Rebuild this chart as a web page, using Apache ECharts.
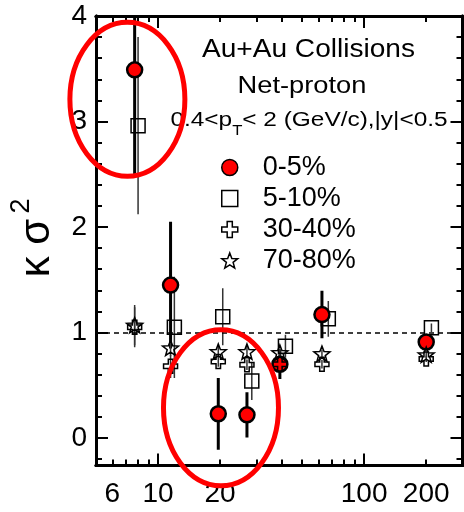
<!DOCTYPE html>
<html><head><meta charset="utf-8">
<script src="https://cdn.jsdelivr.net/npm/echarts@6/dist/echarts.min.js"></script>
<style>html,body{margin:0;padding:0;background:#fff}#c{width:464px;height:512px}</style>
</head><body><div id="c"></div>
<script>
// ---- data ----
const energies = [7.7, 11.5, 19.6, 27, 39, 62.4, 200];
const energiesSq = [8.0, 12.0, 20.6, 28.5, 41.5, 67, 212]; // 5-10% points drawn slightly offset
const c0_5 = [3.49, 1.45, 0.23, 0.22, 0.70, 1.17, 0.91];
const c0_5Err = [1.01, 0.60, 0.34, 0.215, 0.14, 0.225, 0.05];
const c5_10 = [2.96, 1.05, 1.15, 0.54, 0.87, 1.13, 1.045];
const c5_10Err = [0.84, 0.48, 0.27, 0.18, 0.11, 0.17, 0.04];
const c30_40 = [1.05, 0.68, 0.725, 0.695, 0.70, 0.70, 0.75];
const c30_40Err = [0.19, 0.11, 0.05, 0.05, 0.04, 0.04, 0.03];
const c70_80 = [1.07, 0.855, 0.82, 0.82, 0.81, 0.80, 0.79];
const c70_80Err = [0.19, 0.08, 0.05, 0.05, 0.04, 0.04, 0.03];
const names = ['0-5%', '5-10%', '30-40%', '70-80%'];
const xTickLabels = [6, 10, 20, 100, 200];
const xMajorTicks = [10, 100];
const xMinorTicks = [6, 7, 8, 9, 20, 30, 40, 50, 60, 70, 80, 90, 200];
const yTickLabels = [0, 1, 2, 3, 4];
const refLine = 1;

const L = Math.log10;
const xMin = L(5), xMax = L(300), yMin = -0.26, yMax = 4;
const yMinorTicks = [];
for (let i = -1; i <= 19; i++) { if (i % 5 !== 0) yMinorTicks.push(i / 5); }

const FONT = '"Liberation Sans", Arial, Helvetica, sans-serif';

function starPath() {
  let s = 'path://';
  for (let i = 0; i < 10; i++) {
    const a = -Math.PI / 2 + i * Math.PI / 5, r = i % 2 ? 4.2 : 10;
    s += (i ? 'L' : 'M') + (Math.cos(a) * r).toFixed(2) + ',' + (Math.sin(a) * r).toFixed(2);
  }
  return s + 'Z';
}
const crossPath = 'path://M3.4,0H6.6V3.4H10V6.6H6.6V10H3.4V6.6H0V3.4H3.4Z';

function xAx(pos, ticks, len, withLabels) {
  return {
    type: 'value', position: pos, min: xMin, max: xMax,
    axisLine: { show: true, onZero: false, lineStyle: { color: '#000', width: 3 } },
    axisTick: { show: true, inside: true, length: len, customValues: ticks.map(L), lineStyle: { color: '#000', width: 2 } },
    axisLabel: withLabels ? {
      show: true, customValues: xTickLabels.map(L), margin: 15,
      formatter: v => String(Math.round(Math.pow(10, v))),
      fontSize: 28, color: '#000', fontFamily: FONT
    } : { show: false },
    splitLine: { show: false }
  };
}
function yAx(pos, ticks, len, withLabels) {
  return {
    type: 'value', position: pos, min: yMin, max: yMax,
    axisLine: { show: true, onZero: false, lineStyle: { color: '#000', width: 3 } },
    axisTick: { show: true, inside: true, length: len, customValues: ticks, lineStyle: { color: '#000', width: 2 } },
    axisLabel: withLabels ? {
      show: true, customValues: yTickLabels, margin: 9,
      formatter: v => String(Math.round(v)),
      fontSize: 28, color: '#000', fontFamily: FONT
    } : { show: false },
    splitLine: { show: false }
  };
}

function errBars(xs, ys, errs, color, width) {
  return {
    type: 'custom', silent: true, clip: true,
    xAxisIndex: 0, yAxisIndex: 0,
    data: xs.map((x, i) => [L(x), ys[i], errs[i]]),
    renderItem: (params, api) => {
      const x = api.value(0), y = api.value(1), e = api.value(2);
      const lo = Math.max(y - e, yMin), hi = Math.min(y + e, yMax);
      const p1 = api.coord([x, lo]), p2 = api.coord([x, hi]);
      return { type: 'line', shape: { x1: p1[0], y1: p1[1], x2: p2[0], y2: p2[1] },
        style: { stroke: color, lineWidth: width } };
    }
  };
}
function points(name, xs, ys, symbol, size, fill, bw) {
  return {
    type: 'scatter', name, xAxisIndex: 0, yAxisIndex: 0,
    data: xs.map((x, i) => [L(x), ys[i]]),
    symbol, symbolSize: size, symbolKeepAspect: true,
    itemStyle: { color: fill, borderColor: '#000', borderWidth: bw, opacity: 1 },
    emphasis: { disabled: true }
  };
}

const sq = points(names[1], energiesSq, c5_10, 'rect', 14, 'rgba(255,255,255,0)', 1.5);
sq.markLine = {
  silent: true, symbol: ['none', 'none'], label: { show: false },
  lineStyle: { color: '#000', width: 1.5, type: [5, 4] },
  data: [{ yAxis: refLine }]
};

const chart = echarts.init(document.getElementById('c'), null, { renderer: 'canvas' });
chart.setOption({
  animation: false,
  backgroundColor: '#fff',
  grid: { left: 96, right: 1.5, top: 16, bottom: 46.5, containLabel: false },
  xAxis: [xAx('bottom', xMajorTicks, 12, true), xAx('bottom', xMinorTicks, 6, false),
          xAx('top', xMajorTicks, 12, false), xAx('top', xMinorTicks, 6, false)],
  yAxis: [yAx('left', yTickLabels, 12, true), yAx('left', yMinorTicks, 6, false),
          yAx('right', yTickLabels, 12, false), yAx('right', yMinorTicks, 6, false)],
  legend: {
    orient: 'vertical', left: 216, top: 149, itemWidth: 16, itemHeight: 16, itemGap: 4,
    selectedMode: false, data: names,
    itemStyle: { borderWidth: 1.5 },
    textStyle: { fontSize: 27, color: '#000', fontFamily: FONT, padding: [0, 0, 0, 20], lineHeight: 26 }
  },
  series: [
    errBars(energiesSq, c5_10, c5_10Err, '#333', 1.5),
    sq,
    errBars(energies, c0_5, c0_5Err, '#000', 3),
    points(names[0], energies, c0_5, 'circle', 15, '#ff0000', 2.5),
    errBars(energies, c30_40, c30_40Err, '#333', 1.5),
    points(names[2], energies, c30_40, crossPath, 14, 'rgba(255,255,255,0)', 1.5),
    errBars(energies, c70_80, c70_80Err, '#333', 1.5),
    points(names[3], energies, c70_80, starPath(), 16, 'rgba(255,255,255,0)', 1.5)
  ]
});

// annotations: ellipses anchored in data space, texts
const e1 = chart.convertToPixel({ gridIndex: 0 }, [L(7.1), 3.21]);
const e2 = chart.convertToPixel({ gridIndex: 0 }, [L(20.2), 0.287]);
chart.setOption({
  graphic: [
    { type: 'ellipse', z: 100, silent: true, shape: { cx: e1[0], cy: e1[1], rx: 57.5, ry: 77 },
      style: { fill: 'none', stroke: '#ff0000', lineWidth: 5 } },
    { type: 'ellipse', z: 100, silent: true, shape: { cx: e2[0], cy: e2[1], rx: 57.5, ry: 78 },
      style: { fill: 'none', stroke: '#ff0000', lineWidth: 5 } },
    { type: 'text', z: 50, x: 308.5, y: 50, scaleX: 1.08, silent: true,
      style: { text: 'Au+Au Collisions', fontSize: 26, fontFamily: FONT, fill: '#000', align: 'center', verticalAlign: 'middle' } },
    { type: 'text', z: 50, x: 302, y: 87, scaleX: 1.16, silent: true,
      style: { text: 'Net-proton', fontSize: 23.5, fontFamily: FONT, fill: '#000', align: 'center', verticalAlign: 'middle' } },
    { type: 'text', z: 50, x: 309, y: 120, scaleX: 1.19, silent: true,
      style: { text: '{a|0.4<p}{t|T}{a|< 2 (GeV/c),|y|<0.5}', fontFamily: FONT, fill: '#000', align: 'center', verticalAlign: 'middle',
        rich: { a: { fontSize: 20.5, fontFamily: FONT, fill: '#000' },
                t: { fontSize: 14, fontFamily: FONT, fill: '#000', padding: [23, 0, 0, 0] } } } },
    { type: 'text', z: 50, x: 37, y: 248, rotation: Math.PI / 2, silent: true,
      style: { text: 'κ σ', fontSize: 42, fontFamily: FONT, fill: '#000', align: 'center', verticalAlign: 'middle' } },
    { type: 'text', z: 50, x: 22, y: 206, rotation: Math.PI / 2, silent: true,
      style: { text: '2', fontSize: 27, fontFamily: FONT, fill: '#000', align: 'center', verticalAlign: 'middle' } }
  ]
});
</script></body></html>
